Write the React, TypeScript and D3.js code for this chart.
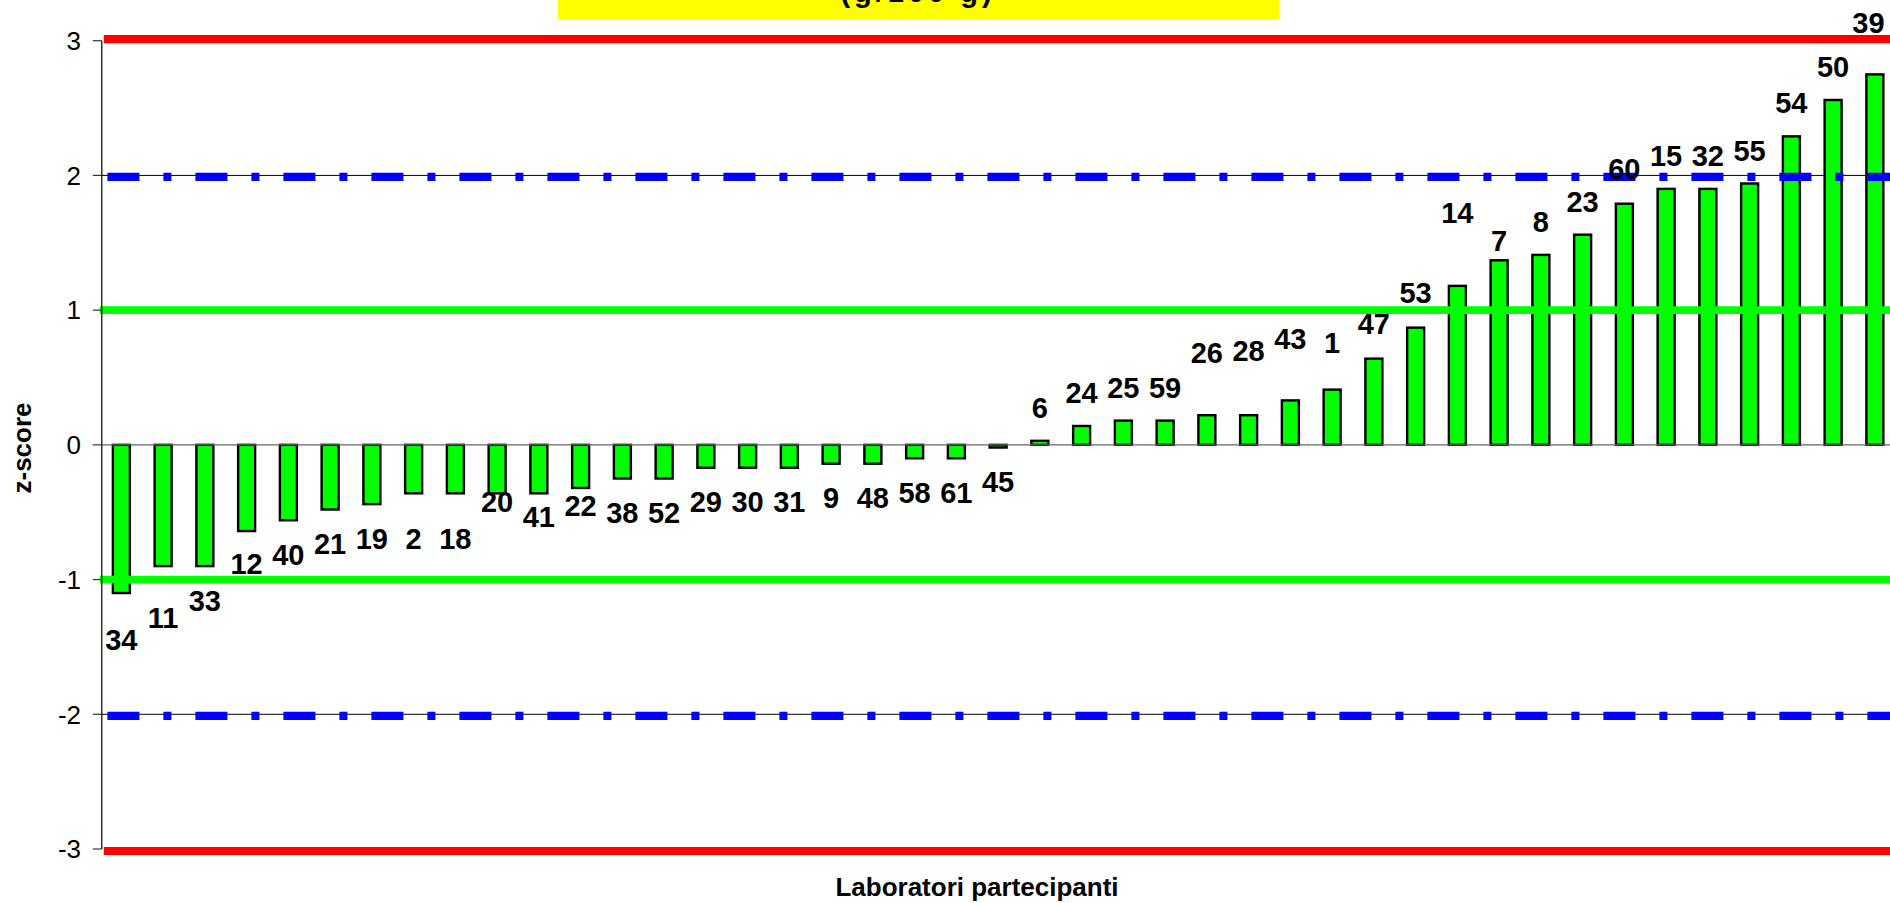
import React from "react";
import * as d3 from "d3";

// ---- data ----
const labs = ["34","11","33","12","40","21","19","2","18","20","41","22","38","52","29","30","31","9","48","58","61","45","6","24","25","59","26","28","43","1","47","53","14","7","8","23","60","15","32","55","54","50","39"];
const zScores = [-1.10,-0.90,-0.90,-0.64,-0.56,-0.48,-0.44,-0.36,-0.36,-0.36,-0.36,-0.32,-0.25,-0.25,-0.17,-0.17,-0.17,-0.14,-0.14,-0.10,-0.10,-0.02,0.03,0.14,0.18,0.18,0.22,0.22,0.33,0.41,0.64,0.87,1.18,1.37,1.41,1.56,1.79,1.90,1.90,1.94,2.29,2.56,2.75];
// z position of each data label's baseline (labels were placed individually)
const labelZ = [-1.52,-1.36,-1.23,-0.96,-0.89,-0.81,-0.77,-0.77,-0.77,-0.50,-0.61,-0.53,-0.58,-0.58,-0.50,-0.50,-0.50,-0.47,-0.47,-0.43,-0.43,-0.35,0.20,0.31,0.35,0.35,0.61,0.62,0.71,0.68,0.82,1.05,1.65,1.44,1.58,1.73,1.97,2.07,2.07,2.11,2.46,2.73,3.06];
const yTicks = [3, 2, 1, 0, -1, -2, -3];
const warnLevels = [2, -2];
const actLevels = [3, -3];
const okLevels = [1, -1];
const titleText = "(g/100 g)";
const xTitle = "Laboratori partecipanti";
const yTitle = "z-score";

const W = 1890, H = 903;
const FONT = "'Liberation Sans', Arial, Helvetica, sans-serif";

export default function App() {
  const axisX = 101.8;
  const plotLeft = 100.5;
  const step = 41.75;
  const plotRight = plotLeft + labs.length * step;
  const y = d3.scaleLinear().domain([-3, 3]).range([849, 40.7]);
  const x = d3.scaleBand<string>().domain(labs).range([plotLeft, plotRight]).paddingInner(0.593).paddingOuter(0.2965);
  const bw = x.bandwidth();
  const lineStart = axisX + 4;
  const lineEnd = W + 10;

  return (
    <svg width={W} height={H} style={{ position: "absolute", left: 0, top: 0, background: "#fff", overflow: "hidden" }} fontFamily={FONT}>
      <rect x={0} y={0} width={W} height={H} fill="#fff" />
      {/* title box, cut off at top */}
      <rect x={558} y={0} width={721} height={19} fill="#ffff00" />
      <text x={918} y={1.5} textAnchor="middle" fontSize={29} fontWeight="bold" fill="#000" letterSpacing={4}>{titleText}</text>

      {/* thin gridlines at ±2 */}
      {warnLevels.map((v) => (
        <line key={"g" + v} x1={axisX} x2={lineEnd} y1={y(v)} y2={y(v)} stroke="#000" strokeWidth={1} />
      ))}

      {/* bars */}
      {labs.map((l, i) => {
        const v = zScores[i];
        const y0 = y(0), y1 = y(v);
        return (
          <rect key={"b" + l} x={x(l)} y={Math.min(y0, y1)} width={bw} height={Math.max(Math.abs(y1 - y0), 1)}
            fill="#00ff00" stroke="#000" strokeWidth={2.4} />
        );
      })}

      {/* zero axis */}
      <line x1={axisX} x2={lineEnd} y1={y(0)} y2={y(0)} stroke="#666" strokeWidth={1.2} />

      {/* limit lines */}
      {okLevels.map((v) => (
        <line key={"ok" + v} x1={lineStart - 6} x2={lineEnd} y1={y(v)} y2={y(v)} stroke="#00ff00" strokeWidth={7.8} />
      ))}
      {warnLevels.map((v) => (
        <line key={"w" + v} x1={lineStart + 1.6} x2={lineEnd} y1={y(v) + 1.5} y2={y(v) + 1.5} stroke="#0000ff" strokeWidth={8.2}
          strokeDasharray="32 24 8 24" />
      ))}
      {actLevels.map((v) => (
        <line key={"a" + v} x1={lineStart - 2} x2={lineEnd} y1={y(v) + (v > 0 ? -1.5 : 2)} y2={y(v) + (v > 0 ? -1.5 : 2)} stroke="#ff0000" strokeWidth={8.2} />
      ))}

      {/* y axis */}
      <line x1={axisX} x2={axisX} y1={y(3)} y2={y(-3)} stroke="#000" strokeWidth={1.2} />
      {yTicks.map((t) => (
        <g key={"t" + t}>
          <line x1={axisX - 9} x2={axisX} y1={y(t)} y2={y(t)} stroke="#333" strokeWidth={1.2} />
          <text x={81} y={y(t)} dy="0.36em" textAnchor="end" fontSize={26} fill="#000">{t}</text>
        </g>
      ))}

      {/* data labels */}
      {labs.map((l, i) => {
        const cx = Math.min((x(l) as number) + bw / 2, 1868.5);
        return (
          <text key={"l" + l} x={cx} y={y(labelZ[i])} textAnchor="middle" fontSize={29} fontWeight="bold" fill="#000">{l}</text>
        );
      })}

      {/* axis titles */}
      <text x={977} y={896} textAnchor="middle" fontSize={26} fontWeight="bold" fill="#000">{xTitle}</text>
      <text transform={`translate(31,448) rotate(-90)`} textAnchor="middle" fontSize={26} fontWeight="bold" fill="#000">{yTitle}</text>
    </svg>
  );
}
